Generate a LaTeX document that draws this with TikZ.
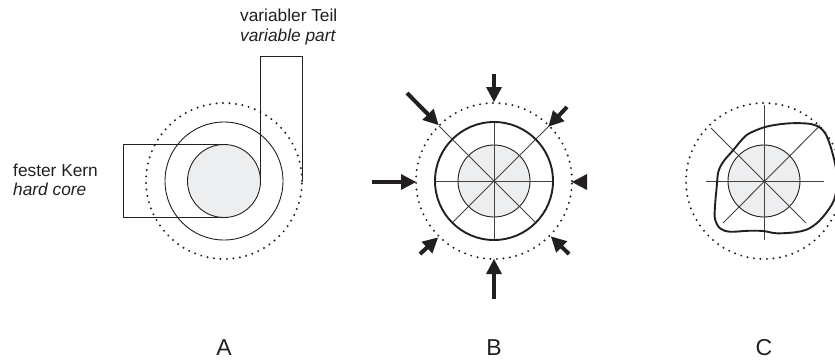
\documentclass[tikz,border=0pt]{standalone}
\usepackage{fontspec}
\setmainfont{Liberation Sans}
\usetikzlibrary{calc}
\definecolor{ink}{HTML}{231F20}
\definecolor{core}{HTML}{EDEEF0}
\newcommand\pusharrow[2]{%
  \draw[shaft] (#1) -- ($(#2)!13pt!(#1)$);
  \fill[ink] (#2) -- ($(#2)!15pt!(#1)!8pt!90:(#2)$) -- ($(#2)!15pt!(#1)!8pt!-90:(#2)$) -- cycle;}
\begin{document}
\begin{tikzpicture}[x=1pt,y=-1pt,
  thinline/.style={draw=ink,line width=0.9pt},
  crossline/.style={draw=ink!85,line width=0.9pt},
  thickline/.style={draw=ink,line width=1.9pt},
  dots/.style={draw=ink,line width=2.2pt,line cap=round,dash pattern=on 0pt off 6.5pt},
  corefill/.style={fill=core,draw=ink,line width=0.9pt},
  shaft/.style={draw=ink,line width=4pt},
  lbl/.style={font=\fontsize{17.3}{20}\selectfont,text=ink,inner sep=0pt},
  big/.style={font=\fontsize{23}{26}\selectfont,text=ink,inner sep=0pt}]
\useasboundingbox (0,0) rectangle (835,360);
\clip (0,0) rectangle (835,360);

% ---------- Panel A ----------
\coordinate (A) at (224,181);
\draw[dots] (A) circle[radius=78pt];
\draw[thinline] (A) circle[radius=59pt];
\draw[thinline] (224,144.5) -- (123,144.5) -- (123,217.5) -- (224,217.5);
\draw[thinline] (260.5,181) -- (260.5,56) -- (302,56) -- (302,181);
\draw[corefill] (A) circle[radius=36.5pt];
\node[lbl,anchor=base west] (vt) at (240,21) {variabler Teil};
\node[lbl,anchor=base west] (vp) at (240,41) {\itshape variable part};
\node[lbl,anchor=base west] (fk) at (13,176) {fester Kern};
\node[lbl,anchor=base west] (hc) at (13,195) {\itshape hard core};

% ---------- Panel B ----------
\coordinate (B) at (494,181);
\draw[dots] (B) circle[radius=78pt];
\draw[corefill] (B) circle[radius=36pt];
\draw[crossline] (435,181) -- (553,181);
\draw[crossline] (494,122) -- (494,240);
\draw[crossline] (438.8,125.8) -- (535.7,222.7);
\draw[crossline] (549.2,125.8) -- (452.3,222.7);
\draw[thickline] (B) circle[radius=59pt];
% arrows
\coordinate (nT) at (494,74);   \coordinate (nH) at (494,102);
\coordinate (nwT) at (407,93);  \coordinate (nwH) at (438.5,125);
\coordinate (neT) at (567,107); \coordinate (neH) at (548.5,126.5);
\coordinate (wT) at (372,182);  \coordinate (wH) at (416,182);
\coordinate (eT) at (587,182);  \coordinate (eH) at (572,182);
\coordinate (swT) at (420,254); \coordinate (swH) at (438,237.5);
\coordinate (seT) at (569,254); \coordinate (seH) at (551,236.5);
\coordinate (sT) at (494,299);  \coordinate (sH) at (494,259);
\pusharrow{nT}{nH}
\pusharrow{nwT}{nwH}
\pusharrow{neT}{neH}
\pusharrow{wT}{wH}
\pusharrow{eT}{eH}
\pusharrow{swT}{swH}
\pusharrow{seT}{seH}
\pusharrow{sT}{sH}

% ---------- Panel C ----------
\coordinate (C) at (764,181);
\draw[dots] (C) circle[radius=78pt];
\draw[corefill] (C) circle[radius=36pt];
\draw[crossline] (764,105) -- (764,240);
\draw[crossline] (706,181) -- (824,181);
\draw[crossline] (711,128) -- (806,223);
\draw[crossline] (820,125.5) -- (723,223);
\draw[thickline] plot[smooth cycle,tension=0.55] coordinates {
  (750,133) (767,126.5) (790,123.3) (813,124.5) (825,133) (833,155)
  (837,178) (834,200) (822,218) (810,228) (797,232) (777,233.3)
  (763,231) (748,230.8) (730,231.7) (720,228.3) (715,219) (715,206)
  (716.7,187) (718.3,172) (723.3,161.7) (733.3,150) (742.5,139)};

% ---------- Labels ----------
\node[big,anchor=base] (la) at (224,355) {A};
\node[big,anchor=base] (lb) at (494,355) {B};
\node[big,anchor=base] (lc) at (764,355) {C};
\end{tikzpicture}
\end{document}
